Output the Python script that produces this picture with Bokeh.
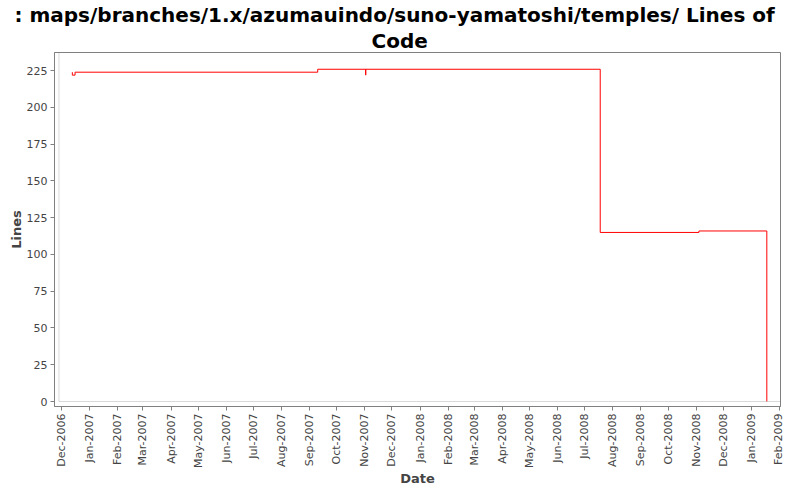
import math
import pandas as pd
from bokeh.plotting import figure
from bokeh.models import (ColumnDataSource, Range1d, FixedTicker, DatetimeTickFormatter,
                          BoxAnnotation, Title)
from bokeh.embed import file_html
from bokeh.resources import INLINE

# ---- data ----
dates = ["2006-12-13", "2006-12-13", "2006-12-16", "2007-09-10",
         "2007-11-02", "2007-11-02", "2008-07-18", "2008-11-04", "2009-01-18"]
lines = [224, 222, 224, 226, 222, 226, 115, 116, 0]
tick_months = ["2006-12-01", "2007-01-01", "2007-02-01", "2007-03-01", "2007-04-01",
               "2007-05-01", "2007-06-01", "2007-07-01", "2007-08-01", "2007-09-01",
               "2007-10-01", "2007-11-01", "2007-12-01", "2008-01-01", "2008-02-01",
               "2008-03-01", "2008-04-01", "2008-05-01", "2008-06-01", "2008-07-01",
               "2008-08-01", "2008-09-01", "2008-10-01", "2008-11-01", "2008-12-01",
               "2009-01-01", "2009-02-01"]
y_ticks = [0, 25, 50, 75, 100, 125, 150, 175, 200, 225]
title_line1 = ": maps/branches/1.x/azumauindo/suno-yamatoshi/temples/ Lines of"
title_line2 = "Code"
x_label = "Date"
y_label = "Lines"

src = ColumnDataSource(dict(x=pd.to_datetime(dates), y=lines))

def ms(d):
    return pd.Timestamp(d).value / 1e6

DAY = 86400000
x_start = ms("2006-12-01") - 7.7 * DAY
x_end = ms("2009-02-01") + 1.1 * DAY
inner_left = ms("2006-12-01") - 2.76 * DAY

p = figure(frame_width=726, frame_height=354, output_backend="svg", toolbar_location=None,
           x_axis_type="datetime",
           x_range=Range1d(x_start, x_end), y_range=Range1d(-3.4, 237.4),
           min_border_left=54, min_border_right=4, min_border_top=48, min_border_bottom=82)

p.title = Title(text=title_line1, align="left", offset=-40, text_font="DejaVu Sans",
                text_font_size="20px", text_font_style="bold", text_color="#000000",
                standoff=0, text_line_height=1.0)
p.add_layout(Title(text=title_line2, align="left", offset=317, text_font="DejaVu Sans",
                   text_font_size="20px", text_font_style="bold", text_color="#000000",
                   standoff=0, text_line_height=1.0), "above")

p.step("x", "y", source=src, mode="after", line_color="#ff0000", line_width=1)

p.add_layout(BoxAnnotation(left=inner_left, bottom=0, fill_color=None, fill_alpha=0,
                           line_color="#808080", line_width=1))

p.grid.visible = False
p.background_fill_color = "#ffffff"
p.border_fill_color = "#ffffff"
p.outline_line_color = "#808080"

for ax in (p.xaxis[0], p.yaxis[0]):
    ax.axis_line_color = "#808080"
    ax.major_tick_line_color = "#808080"
    ax.minor_tick_line_color = None
    ax.major_tick_in = 0
    ax.major_tick_out = 4
    ax.major_label_standoff = 3
    ax.axis_label_standoff = 0
    ax.major_label_text_font = "DejaVu Sans"
    ax.major_label_text_font_size = "11px"
    ax.major_label_text_color = "#444444"
    ax.major_label_text_line_height = 1.0
    ax.axis_label_text_font = "DejaVu Sans"
    ax.axis_label_text_font_size = "13px"
    ax.axis_label_text_font_style = "bold"
    ax.axis_label_text_color = "#444444"
    ax.axis_label_text_line_height = 1.0

p.xaxis[0].ticker = FixedTicker(ticks=[ms(d) for d in tick_months])
p.xaxis[0].formatter = DatetimeTickFormatter(days="%b-%Y", months="%b-%Y", years="%b-%Y")
p.xaxis[0].major_label_orientation = math.pi / 2
p.xaxis[0].axis_label = x_label
p.yaxis[0].ticker = FixedTicker(ticks=y_ticks)
p.yaxis[0].axis_label = y_label

open("out.html", "w").write(file_html(p, INLINE))
